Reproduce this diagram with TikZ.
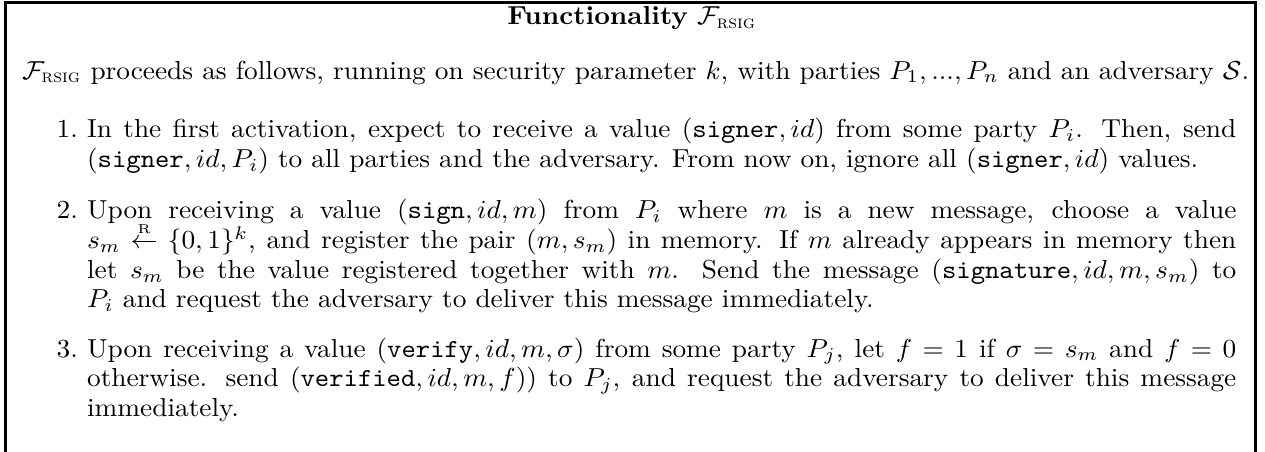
\documentclass[tikz,border=0pt]{standalone}
\usepackage{amsmath}
\usepackage{graphicx}
\hfuzz=100pt \hbadness=10000
\newcommand{\Frsig}{\mathcal{F}_{\textsc{rsig}}}
\newlength\introw
\newlength\iw
\newcommand{\introtext}{$\Frsig$ proceeds as follows, running on security parameter $k$, with parties $P_1, ..., P_n$ and an adversary $\mathcal{S}$.}
\newcommand{\hs}[1]{\scalebox{\hf}[1]{#1}}
\newcommand{\J}[1]{\hbox to\iw{#1}}
\newcommand{\lastl}[1]{\hbox{#1}}
\newcommand{\para}[1]{\hs{\vtop{\baselineskip=11.4pt\lineskiplimit=-100pt\lineskip=0pt #1}}}
\begin{document}
\settowidth\introw{\fontsize{10}{12}\selectfont\introtext}%
\pgfmathsetmacro\hf{471.9pt/\introw}%
\pgfmathsetlength\iw{442pt/\hf}%
\begin{tikzpicture}[x=1pt,y=1pt,
  every node/.style={inner sep=0pt, outer sep=0pt, font=\fontsize{10}{12}\selectfont},
  itembox/.style={anchor=base west},
  numlabel/.style={anchor=base east},
  frame/.style={line width=1.15pt}]
\useasboundingbox (0,0) rectangle (486.5,-173.8);
\coordinate (bl) at (2.3,-173.8);
\coordinate (tl) at (2.3,-0.8);
\coordinate (tr) at (482.9,-0.8);
\coordinate (br) at (482.9,-173.8);
\draw[frame] (bl) -- (tl) -- (tr) -- (br);
\node[anchor=base] (title) at (243,-9.4) {\hs{\textbf{Functionality} $\Frsig$}};
\node[anchor=base west] (intro) at (8.5,-30.4) {\hs{\introtext}};
\node[numlabel] (n1) at (30.0,-52.9) {\hs{1.}};
\node[itembox] (i1) at (33.5,-52.9) {\para{%
\J{In the first activation, expect to receive a value $(\texttt{signer}, id)$ from some party $P_i$. Then, send}
\lastl{$(\texttt{signer}, id, P_i)$ to all parties and the adversary. From now on, ignore all $(\texttt{signer}, id)$ values.}}};
\node[numlabel] (n2) at (30.0,-84.2) {\hs{2.}};
\node[itembox] (i2) at (33.5,-84.2) {\para{%
\J{Upon receiving a value $(\texttt{sign}, id, m)$ from $P_i$ where $m$ is a new message, choose a value}
\J{$s_m \stackrel{\scriptscriptstyle\mathrm{R}}{\leftarrow} \{0,1\}^k$, and register the pair $(m, s_m)$ in memory. If $m$ already appears in memory then}
\J{let $s_m$ be the value registered together with $m$. Send the message $(\texttt{signature}, id, m, s_m)$ to}
\lastl{$P_i$ and request the adversary to deliver this message immediately.}}};
\node[numlabel] (n3) at (30.0,-137.3) {\hs{3.}};
\node[itembox] (i3) at (33.5,-137.3) {\para{%
\J{Upon receiving a value $(\texttt{verify}, id, m, \sigma)$ from some party $P_j$, let $f=1$ if $\sigma = s_m$ and $f=0$}
\J{otherwise. send $(\texttt{verified}, id, m, f))$ to $P_j$, and request the adversary to deliver this message}
\lastl{immediately.}}};
\end{tikzpicture}
\end{document}
